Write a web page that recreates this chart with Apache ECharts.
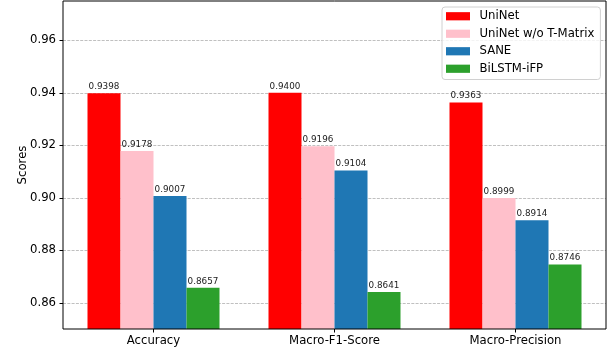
<!DOCTYPE html>
<html>
<head>
<meta charset="utf-8">
<script src="https://cdn.jsdelivr.net/npm/echarts@6/dist/echarts.min.js"></script>
<style>
  html, body { margin: 0; padding: 0; background: #fff; }
  #chart { width: 613px; height: 352px; }
</style>
</head>
<body>
<div id="chart"></div>
<script>
// Metric groups along the x axis
const categories = ['Accuracy', 'Macro-F1-Score', 'Macro-Precision'];

// Scores per model, one value per metric
const uniNet = [0.9398, 0.9400, 0.9363];
const uniNetNoTMatrix = [0.9178, 0.9196, 0.8999];
const sane = [0.9007, 0.9104, 0.8914];
const bilstmIfp = [0.8657, 0.8641, 0.8746];

const modelNames = ['UniNet', 'UniNet w/o T-Matrix', 'SANE', 'BiLSTM-iFP'];
const modelColors = ['#ff0000', '#ffc0cb', '#1f77b4', '#2ca02c'];

// Y axis range and tick marks
const yMin = 0.85;
const yMax = 0.975;
const yTicks = [0.86, 0.88, 0.90, 0.92, 0.94, 0.96];

const FONT = 'DejaVu Sans';
const TEXT = 11.7;
const chart = echarts.init(document.getElementById('chart'), null, { renderer: 'canvas' });

const seriesValues = [uniNet, uniNetNoTMatrix, sane, bilstmIfp];

const series = seriesValues.map((vals, i) => ({
  name: modelNames[i],
  type: 'bar',
  data: vals,
  barWidth: 33,
  barGap: '0%',
  itemStyle: { color: modelColors[i] },
  label: {
    show: true,
    position: 'top',
    distance: 2,
    fontFamily: FONT,
    fontSize: 8.8,
    color: '#222',
    formatter: p => p.value.toFixed(4)
  }
}));

chart.setOption({
  animation: false,
  backgroundColor: '#fff',
  grid: {
    left: 63, right: 7, top: 1, bottom: 23, containLabel: false,
    show: true, z: 5, backgroundColor: 'transparent', borderColor: '#000', borderWidth: 1
  },
  legend: {
    orient: 'vertical',
    left: 442,
    top: 7,
    padding: [2.5, 6, 4, 4],
    itemWidth: 24,
    itemHeight: 8.2,
    itemGap: 4,
    icon: 'rect',
    backgroundColor: 'rgba(255,255,255,0.8)',
    borderColor: '#d0d0d0',
    borderWidth: 1,
    borderRadius: 3,
    textStyle: { fontFamily: FONT, fontSize: TEXT, color: '#000', lineHeight: 13.5, padding: [0, 0, 0, 4.5] },
    data: modelNames
  },
  xAxis: {
    type: 'category',
    data: categories,
    axisLine: { show: false },
    axisTick: { show: true, alignWithLabel: true, length: 3.5, lineStyle: { color: '#000', width: 1 } },
    axisLabel: { fontFamily: FONT, fontSize: TEXT, color: '#000', margin: 6 },
    splitLine: { show: false }
  },
  yAxis: {
    type: 'value',
    min: yMin,
    max: yMax,
    name: 'Scores',
    nameLocation: 'middle',
    nameGap: 34,
    nameMoveOverlap: false,
    nameRotate: 90,
    nameTextStyle: { fontFamily: FONT, fontSize: TEXT, color: '#000' },
    axisLine: { show: false },
    axisTick: { show: true, length: 3.5, customValues: yTicks, lineStyle: { color: '#000', width: 1 } },
    axisLabel: {
      fontFamily: FONT, fontSize: TEXT, color: '#000', margin: 7,
      customValues: yTicks,
      formatter: v => v.toFixed(2)
    },
    splitLine: { show: true, lineStyle: { color: '#b0b0b0', width: 0.8, type: [3, 1.3] } }
  },
  series: series
});
</script>
</body>
</html>
